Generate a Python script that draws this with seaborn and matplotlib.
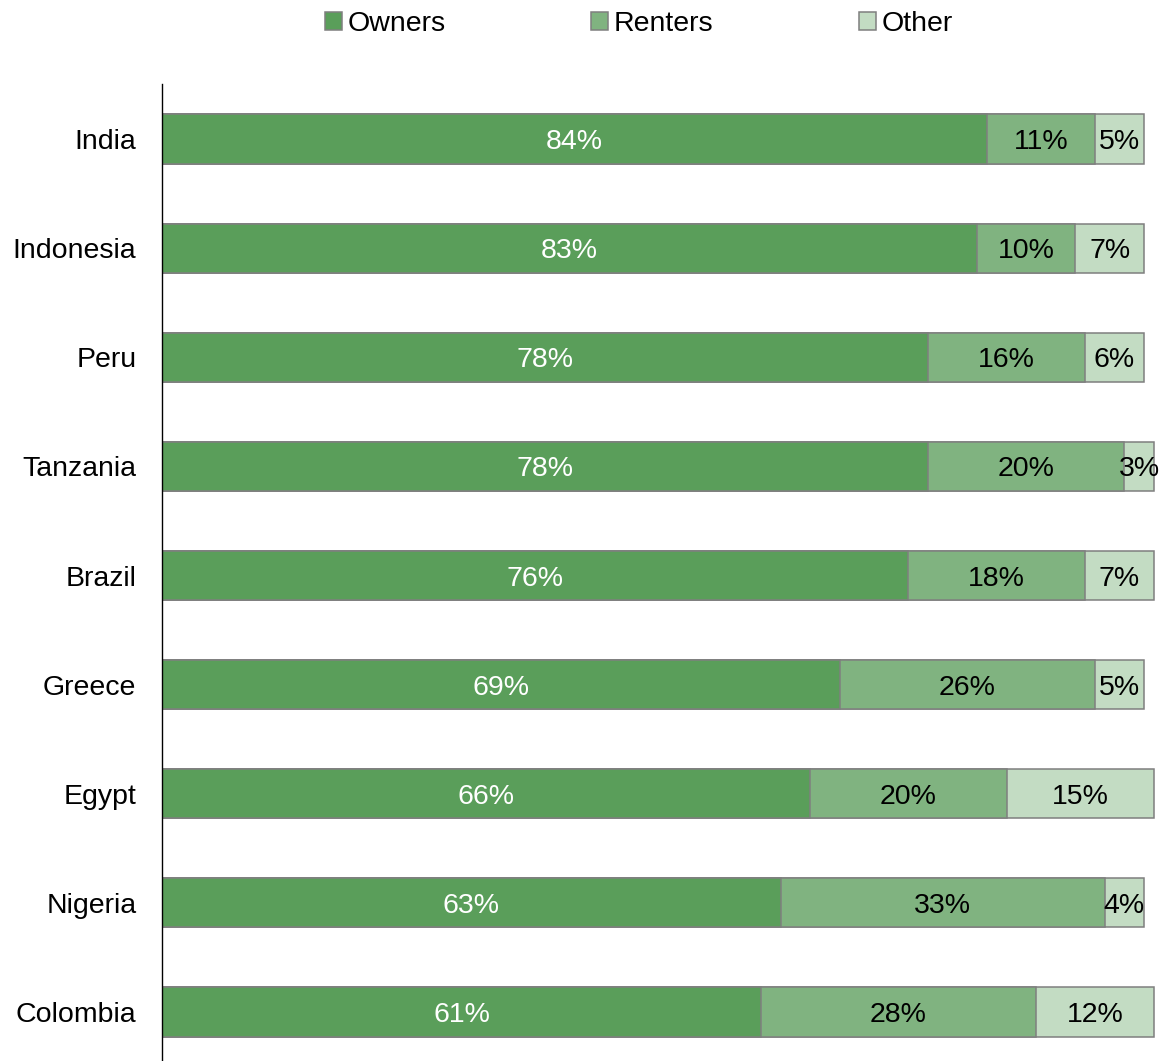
import matplotlib
matplotlib.use("Agg")
import matplotlib.pyplot as plt
from matplotlib.patches import Patch
import numpy as np
import pandas as pd
import seaborn as sns

countries = ["India", "Indonesia", "Peru", "Tanzania", "Brazil",
             "Greece", "Egypt", "Nigeria", "Colombia"]
owners = [84, 83, 78, 78, 76, 69, 66, 63, 61]
renters = [11, 10, 16, 20, 18, 26, 20, 33, 28]
other = [5, 7, 6, 3, 7, 5, 15, 4, 12]

series_names = ["Owners", "Renters", "Other"]
series_colors = ["#5A9E5A", "#80B380", "#C3DCC3"]
label_colors = ["white", "black", "black"]

sns.set_theme(style="white")
plt.rcParams["font.family"] = ["Liberation Sans", "DejaVu Sans"]
plt.rcParams["text.color"] = "black"

W, H = 1164, 1061
fig = plt.figure(figsize=(W / 100, H / 100), dpi=100)
ax = fig.add_axes([162 / W, 0, (W - 162) / W, (H - 84) / H])

df = pd.DataFrame({"country": countries, "Owners": owners,
                   "Renters": renters, "Other": other})
values = [df["Owners"].to_numpy(), df["Renters"].to_numpy(), df["Other"].to_numpy()]
cums = np.cumsum(values, axis=0)

# Stacked bars: draw cumulative totals from the outermost segment inward
for i in range(2, -1, -1):
    sns.barplot(x=cums[i], y=df["country"], orient="h", color=series_colors[i],
                saturation=1, edgecolor="#7F7F7F", linewidth=1.1, width=0.45,
                ax=ax, order=countries)

# Segment value labels, centred in each segment
ypos = np.arange(len(countries))
for i in range(3):
    starts = cums[i] - values[i]
    for y, s, v in zip(ypos, starts, values[i]):
        ax.text(s + v / 2, y, f"{v}%", ha="center", va="center_baseline",
                color=label_colors[i], fontsize=20.5)

ax.set_xlim(0, (W - 162) / 9.82)
ax.set_ylim(8.449, -0.504)
ax.set_xlabel("")
ax.set_ylabel("")
ax.set_xticks([])
ax.tick_params(axis="y", length=0, pad=18.5, labelsize=20.5, labelcolor="black")
for side in ["top", "right", "bottom"]:
    ax.spines[side].set_visible(False)
ax.spines["left"].set_color("black")
ax.spines["left"].set_linewidth(1.0)

handles = [Patch(facecolor=c, edgecolor="#7F7F7F", linewidth=1.1) for c in series_colors]
fig.legend(handles, series_names, loc="center", bbox_to_anchor=(639 / W, 1 - 24 / H),
           ncol=3, frameon=False, fontsize=20.5, handlelength=0.6, handleheight=0.6,
           handletextpad=0.2, columnspacing=5.1, borderaxespad=0, borderpad=0,
           labelcolor="black")

fig.savefig("out.png", dpi=100)
